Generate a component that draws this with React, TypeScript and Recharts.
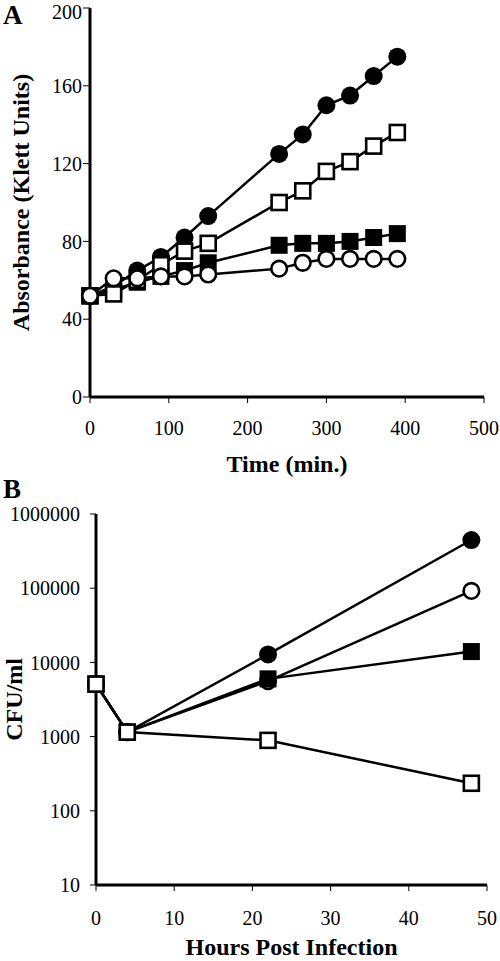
import React from 'react';
import { LineChart, Line, XAxis, YAxis } from 'recharts';

// panel A: growth in broth (Klett units)
const minutes = [0, 30, 60, 90, 120, 150, 240, 270, 300, 330, 360, 390];
const klettFilledCircle = [52, 57, 65, 72, 82, 93, 125, 135, 150, 155, 165, 175];
const klettFilledSquare = [52, 55, 59, 62, 65, 69, 78, 79, 79, 80, 82, 84];
const klettOpenSquare = [52, 53, 60, 68, 75, 79, 100, 106, 116, 121, 129, 136];
const klettOpenCircle = [52, 61, 61, 62, 62, 63, 66, 69, 71, 71, 71, 71];
const timeTicks = [0, 100, 200, 300, 400, 500];
const klettTicks = [0, 40, 80, 120, 160, 200];

// panel B: CFU/ml after infection
const hours = [0, 4, 22, 48];
const cfuFilledCircle = [5100, 1150, 12800, 446000];
const cfuOpenCircle = [5100, 1150, 5600, 92000];
const cfuFilledSquare = [5100, 1150, 6000, 14000];
const cfuOpenSquare = [5100, 1150, 890, 235];
const hourTicks = [0, 10, 20, 30, 40, 50];
const cfuTicks = [10, 100, 1000, 10000, 100000, 1000000];

const dataA = minutes.map((t, i) => ({
  t,
  fc: klettFilledCircle[i],
  fs: klettFilledSquare[i],
  os: klettOpenSquare[i],
  oc: klettOpenCircle[i],
}));

const dataB = hours.map((t, i) => ({
  t,
  fc: cfuFilledCircle[i],
  oc: cfuOpenCircle[i],
  fs: cfuFilledSquare[i],
  os: cfuOpenSquare[i],
}));

const FONT = '"Liberation Serif", "Times New Roman", serif';
const tickStyle = { fill: '#000', fontSize: 20, fontFamily: FONT, style: { fontFamily: FONT } };
const titleStyle = { fill: '#000', fontSize: 24, fontWeight: 'bold', fontFamily: FONT };

type Kind = 'fc' | 'oc' | 'fs' | 'os';

const marker = (kind: Kind) => (props: any) => {
  const { cx, cy, index } = props;
  const key = `${kind}-${index}`;
  if (cx == null || cy == null) return <g key={key} />;
  if (kind === 'fc') return <circle key={key} cx={cx} cy={cy} r={9} fill="#000" />;
  if (kind === 'oc')
    return <circle key={key} cx={cx} cy={cy} r={7.8} fill="#fff" stroke="#000" strokeWidth={2.6} />;
  if (kind === 'fs') return <rect key={key} x={cx - 8.5} y={cy - 8.5} width={17} height={17} fill="#000" />;
  return <rect key={key} x={cx - 7.5} y={cy - 7.5} width={15} height={15} fill="#fff" stroke="#000" strokeWidth={2.6} />;
};

const series = (order: Kind[]) =>
  order.map((k) => (
    <Line
      key={k}
      dataKey={k}
      stroke="#000"
      strokeWidth={2.5}
      dot={marker(k)}
      activeDot={false}
      isAnimationActive={false}
    />
  ));

const frameAxes = (xDomain: number[], yDomain: number[], logY?: boolean) => [
  <XAxis
    key="top"
    xAxisId="top"
    orientation="top"
    type="number"
    domain={xDomain}
    height={0}
    tick={false}
    tickLine={false}
    axisLine={{ stroke: '#000', strokeWidth: 3 }}
  />,
  <YAxis
    key="right"
    yAxisId="right"
    orientation="right"
    type="number"
    scale={logY ? 'log' : 'auto'}
    domain={yDomain}
    width={0}
    tick={false}
    tickLine={false}
    axisLine={{ stroke: '#000', strokeWidth: 3 }}
  />,
];

const letter = (text: string, top: number) => (
  <div
    style={{
      position: 'absolute',
      left: 3,
      top,
      fontFamily: FONT,
      fontWeight: 'bold',
      fontSize: 27,
      lineHeight: '30px',
    }}
  >
    {text}
  </div>
);

export default function App() {
  return (
    <div style={{ position: 'absolute', left: 0, top: 0, width: 500, height: 961, background: '#fff' }}>
      {letter('A', 0)}
      <div style={{ position: 'absolute', left: 0, top: 0 }}>
        <LineChart width={500} height={477} data={dataA} margin={{ top: 8, right: 16, left: 0, bottom: 0 }}>
          <XAxis
            dataKey="t"
            type="number"
            domain={[0, 500]}
            ticks={timeTicks}
            height={80}
            tick={tickStyle}
            tickSize={6}
            tickMargin={18}
            tickLine={{ stroke: '#000' }}
            axisLine={{ stroke: '#000', strokeWidth: 3 }}
            label={{ value: 'Time (min.)', position: 'insideBottom', offset: 5, style: titleStyle }}
          />
          <YAxis
            type="number"
            domain={[0, 200]}
            ticks={klettTicks}
            width={90}
            tick={tickStyle}
            tickSize={7}
            tickMargin={1}
            tickLine={{ stroke: '#000' }}
            axisLine={{ stroke: '#000', strokeWidth: 3 }}
            label={{
              value: 'Absorbance (Klett Units)',
              angle: -90,
              position: 'insideLeft',
              offset: 20,
              style: { ...titleStyle, textAnchor: 'middle' },
            }}
          />
          {frameAxes([0, 500], [0, 200])}
          {series(['fc', 'fs', 'os', 'oc'])}
        </LineChart>
      </div>
      {letter('B', 474)}
      <div style={{ position: 'absolute', left: 0, top: 477 }}>
        <LineChart width={500} height={484} data={dataB} margin={{ top: 37, right: 13, left: 0, bottom: 0 }}>
          <XAxis
            dataKey="t"
            type="number"
            domain={[0, 50]}
            ticks={hourTicks}
            height={76}
            tick={tickStyle}
            tickSize={6}
            tickMargin={20}
            tickLine={{ stroke: '#000' }}
            axisLine={{ stroke: '#000', strokeWidth: 3 }}
            label={{ value: 'Hours Post Infection', position: 'insideBottom', offset: 6, style: titleStyle }}
          />
          <YAxis
            type="number"
            scale="log"
            domain={[10, 1000000]}
            ticks={cfuTicks}
            allowDataOverflow
            width={96}
            tick={tickStyle}
            tickSize={6}
            tickMargin={10}
            tickLine={{ stroke: '#000' }}
            axisLine={{ stroke: '#000', strokeWidth: 3 }}
            label={{
              value: 'CFU/ml',
              angle: -90,
              position: 'insideLeft',
              offset: 13,
              style: { ...titleStyle, textAnchor: 'middle' },
            }}
          />
          {frameAxes([0, 50], [10, 1000000], true)}
          {series(['fc', 'oc', 'fs', 'os'])}
        </LineChart>
      </div>
    </div>
  );
}
